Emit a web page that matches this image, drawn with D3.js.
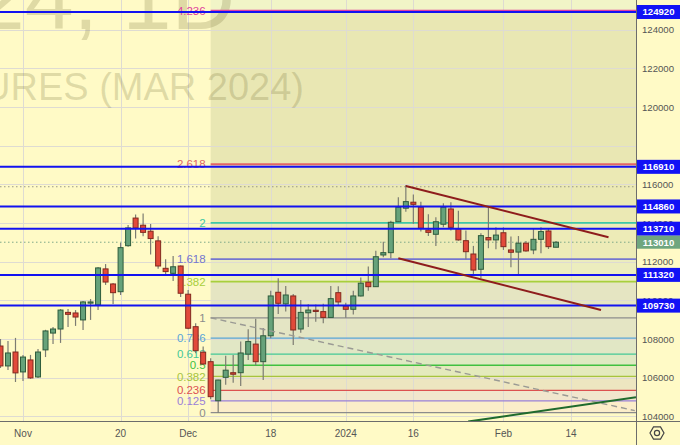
<!DOCTYPE html>
<html><head><meta charset="utf-8">
<script src="https://cdn.jsdelivr.net/npm/d3@7"></script>
<style>
html,body{margin:0;padding:0;background:#fffac6;}
svg{display:block;font-family:"Liberation Sans",Arial,sans-serif;}
</style>
</head><body>
<svg id="chart" width="680" height="445"></svg>
<script>
// ---------- DATA ----------
const dates = [
"2023-10-27","2023-10-30","2023-10-31",
"2023-11-01","2023-11-02","2023-11-03","2023-11-06","2023-11-07","2023-11-08","2023-11-09","2023-11-10",
"2023-11-13","2023-11-14","2023-11-15","2023-11-16","2023-11-17","2023-11-20","2023-11-21","2023-11-22",
"2023-11-23","2023-11-24","2023-11-27","2023-11-28","2023-11-29","2023-11-30",
"2023-12-01","2023-12-04","2023-12-05","2023-12-06","2023-12-07","2023-12-08","2023-12-11","2023-12-12",
"2023-12-13","2023-12-14","2023-12-15","2023-12-18","2023-12-19","2023-12-20","2023-12-21","2023-12-22",
"2023-12-25","2023-12-26","2023-12-27","2023-12-28","2023-12-29",
"2024-01-03","2024-01-04","2024-01-05","2024-01-08","2024-01-09","2024-01-10","2024-01-11","2024-01-12",
"2024-01-15","2024-01-16","2024-01-17","2024-01-18","2024-01-19","2024-01-22","2024-01-23","2024-01-24",
"2024-01-25","2024-01-26","2024-01-29","2024-01-30","2024-01-31",
"2024-02-01","2024-02-02","2024-02-05","2024-02-06","2024-02-07","2024-02-08","2024-02-09","2024-02-12"
];
const openP = [
107640,106610,107330,106300,106920,106040,107440,108310,108520,109380,109350,108990,109870,109760,111630,110850,
110450,112830,114260,113890,113580,113080,111660,111400,111780,110320,108640,107320,106830,104810,106020,106260,
106260,107220,107740,106830,108170,110420,109820,110230,108520,109360,109490,109420,109120,110400,109710,109540,
110230,110940,110710,112350,112470,114070,114770,115080,114820,113640,113420,113940,114730,113700,113090,112400,
111610,113250,113130,113500,112610,112500,112960,112610,113160,113590,112750
];
const highP = [
108000,107900,108060,107180,107180,107490,108480,108630,109550,109560,109500,109970,110070,111730,111880,110900,
112970,113900,114450,114490,113950,113320,112130,112300,111810,110540,108820,107610,107010,105900,107140,107180,
107870,108510,109050,108570,110500,111140,110750,110330,110020,109800,109790,109830,110750,110730,109880,110500,
111180,111750,112570,113040,114120,115340,115970,115480,115110,114460,114300,115020,115080,114640,113610,112820,
113470,114820,113780,113780,113300,113330,113070,113700,113780,113730,113070
];
const lowP = [
106500,106400,105780,105830,105940,105990,107070,107750,107800,108630,108680,108470,108990,109500,110800,109820,
110280,112780,113200,113320,112370,111640,111270,111000,110180,108510,107270,106660,104890,104190,105630,105740,
105570,106920,106630,105880,108040,109300,109420,107690,108330,108630,108900,108820,109100,109710,109100,109270,
110200,110500,110690,112230,112180,114060,114590,113970,113560,113330,112820,113780,113610,113090,112130,111350,
111140,112700,112640,112610,111710,111320,112520,112390,112440,112660,112750
];
const closeP = [
106610,107280,106250,107070,105990,107330,108420,108520,109500,109280,109140,109920,109920,111680,110950,110400,
112730,113750,113750,113520,113200,111780,111490,111740,110370,108560,107400,106710,105020,105880,106390,106180,
107280,107870,106830,108170,110230,109850,110280,108470,109380,109500,109450,109120,110090,109920,109540,110230,
110890,110710,112260,112470,114040,114820,115110,114970,113730,113520,114070,114820,113780,113130,112520,111570,
113350,113130,113380,112780,112490,112960,112560,113160,113560,112780,113010
];

const levelPrices = [124920, 116910, 114860, 113710, 111320, 109730];
const lastPrice = 113010;
const dottedHighPrice = 115880;
const yGridValues  = [104000,106000,108000,110000,112000,114000,116000,118000,120000,122000,124000];
const yTickLabels  = [104000,106000,108000,110000,112000,114000,116000,120000,122000,124000];

const xTickLabels = ["Nov","20","Dec","18","2024","16","Feb","14"];
const xTickDates  = ["2023-11-01","2023-11-20","2023-12-01","2023-12-18","2024-01-03","2024-01-16","2024-02-01","2024-02-14"];

const fibLevels = [0,0.125,0.236,0.382,0.5,0.618,0.786,1,1.382,1.618,2,2.618,4.236];
const fibLabels = ["0","0.125","0.236","0.382","0.5","0.618","0.786","1","1.382","1.618","2","2.618","4.236"];
const fibColors = ["#8c8c8c","#9a80d8","#dc5050","#a6c43e","#40c040","#44c896","#58a4d8","#8c8c8c","#a8cf3c","#7476cf","#3ec8a4","#e26666","#e0409c"];
// fill of band between level k-1 and level k (index 0 unused)
const fibFills  = ["none","#fbedc9","#f1e6cd","#ede6c0","#e4eabd","#dfe9c2","#e1e7c5","#e4e5c4","#e5e5c2","#ecedbe","#edebb7","#ebe9b4","#e9e7b3"];
const fibAbove = "#f1f5c7";
const fibZero = 104190, fibOne = 109100, fibStartDate = "2023-12-06";

// trend lines: [bar position, price]
const trendUpper  = [[54,115920],[81,113270]];
const trendLower  = [[53,112180],[80,109500]];
const trendDashed = [[28,109100],[84.5,104300]];
const trendGreen  = [[62.3,103730],[84.66,104990]];

const watermark1 = "RIH2024, 1D";
const watermark2 = "RTS INDEX FUTURES (MAR 2024)";

// ---------- LAYOUT ----------
const W = 680, H = 445, plotW = 636, plotH = 421;
const svg = d3.select("#chart");

function dateIndex(s){
  const k = dates.indexOf(s);
  if (k >= 0) return k;
  const d = new Date(dates[dates.length-1]+"T00:00:00Z"), t = new Date(s+"T00:00:00Z");
  let n = dates.length-1;
  while (d < t){ d.setUTCDate(d.getUTCDate()+1); const w=d.getUTCDay(); if (w!==0 && w!==6) n++; }
  return n;
}

const x = d3.scaleLinear().domain([-0.064, 84.66]).range([0, plotW]);
const y = d3.scaleLinear().domain([103761, 125541]).range([plotH, 0]);

const candles = dates.map((d,i)=>({i, o:openP[i], h:highP[i], l:lowP[i], c:closeP[i]}));

svg.append("rect").attr("width",W).attr("height",H).attr("fill","#fffac6");

const defs = svg.append("defs");
defs.append("clipPath").attr("id","plotclip").append("rect").attr("width",plotW).attr("height",plotH);
const plot = svg.append("g").attr("clip-path","url(#plotclip)");

// fib bands
const fibX0 = x(dateIndex(fibStartDate));
const fibPrice = v => fibZero + v*(fibOne-fibZero);
plot.append("rect").attr("x",fibX0).attr("y",0).attr("width",plotW-fibX0)
  .attr("height",y(fibPrice(fibLevels[fibLevels.length-1]))).attr("fill",fibAbove);
for (let k=1;k<fibLevels.length;k++){
  const yt = y(fibPrice(fibLevels[k])), yb = y(fibPrice(fibLevels[k-1]));
  plot.append("rect").attr("x",fibX0).attr("y",yt).attr("width",plotW-fibX0).attr("height",yb-yt).attr("fill",fibFills[k]);
}

// grid
plot.append("g").selectAll("line").data(yGridValues).join("line")
  .attr("x1",0).attr("x2",plotW).attr("y1",d=>Math.round(y(d))+0.5).attr("y2",d=>Math.round(y(d))+0.5)
  .attr("stroke","#dedbd2").attr("stroke-width",1);
plot.append("g").selectAll("line").data(xTickDates).join("line")
  .attr("x1",d=>Math.round(x(dateIndex(d)))+0.5).attr("x2",d=>Math.round(x(dateIndex(d)))+0.5)
  .attr("y1",0).attr("y2",plotH).attr("stroke","#dedbd2").attr("stroke-width",1);

// watermark
plot.append("text").attr("x",235).attr("y",29).attr("text-anchor","end")
  .attr("font-size",88).attr("fill","rgba(110,105,50,0.22)").text(watermark1);
plot.append("text").attr("x",304).attr("y",100).attr("text-anchor","end")
  .attr("font-size",38).attr("fill","rgba(110,105,50,0.22)").text(watermark2);

// fib lines + labels
fibLevels.forEach((v,k)=>{
  const yy = y(fibPrice(v));
  plot.append("line").attr("x1",fibX0).attr("x2",plotW).attr("y1",yy).attr("y2",yy)
    .attr("stroke",fibColors[k]).attr("stroke-width", v>=1.382 ? 1.8 : 1.3);
  plot.append("text").attr("x",fibX0-5).attr("y",yy).attr("dy","0.36em").attr("text-anchor","end")
    .attr("font-size",11.5).attr("fill",fibColors[k]).text(fibLabels[k]);
});

// dotted lines
plot.append("line").attr("x1",0).attr("x2",plotW).attr("y1",y(dottedHighPrice)).attr("y2",y(dottedHighPrice))
  .attr("stroke","#9a9a8a").attr("stroke-width",1).attr("stroke-dasharray","1.5,2.5");
plot.append("line").attr("x1",0).attr("x2",plotW).attr("y1",y(lastPrice)).attr("y2",y(lastPrice))
  .attr("stroke","#7fa888").attr("stroke-width",1).attr("stroke-dasharray","1.5,2.5");

// candles
const bw = 5;
const cg = plot.append("g");
cg.selectAll("line.w").data(candles).join("line").attr("class","w")
  .attr("x1",d=>x(d.i)).attr("x2",d=>x(d.i)).attr("y1",d=>y(d.h)).attr("y2",d=>y(d.l))
  .attr("stroke","#7c7c72").attr("stroke-width",1.2);
cg.selectAll("rect").data(candles).join("rect")
  .attr("x",d=>x(d.i)-bw/2).attr("width",bw)
  .attr("y",d=>y(Math.max(d.o,d.c))).attr("height",d=>Math.max(1.2,Math.abs(y(d.o)-y(d.c))))
  .attr("fill",d=>d.c>=d.o?"#66a27a":"#e24a3a")
  .attr("stroke",d=>d.c>=d.o?"#2e5c3c":"#82291e").attr("stroke-width",1);

// blue levels
plot.append("g").selectAll("line").data(levelPrices).join("line")
  .attr("x1",0).attr("x2",plotW).attr("y1",d=>y(d)).attr("y2",d=>y(d))
  .attr("stroke","#1212f0").attr("stroke-width",2);

// trend lines
function tline(pts,color,w,dash){
  const l = plot.append("line").attr("x1",x(pts[0][0])).attr("y1",y(pts[0][1]))
    .attr("x2",x(pts[1][0])).attr("y2",y(pts[1][1])).attr("stroke",color).attr("stroke-width",w);
  if (dash) l.attr("stroke-dasharray",dash);
}
tline(trendDashed,"#9a9a94",1.4,"6,4");
tline(trendUpper,"#8e1c1c",2);
tline(trendLower,"#8e1c1c",2);
tline(trendGreen,"#1f6a2d",2);

// axes frame
svg.append("line").attr("x1",plotW+0.5).attr("x2",plotW+0.5).attr("y1",0).attr("y2",H).attr("stroke","#6c6c6c");
svg.append("line").attr("x1",0).attr("x2",W).attr("y1",plotH+0.5).attr("y2",plotH+0.5).attr("stroke","#6c6c6c");

// y tick labels
svg.append("g").selectAll("text").data(yTickLabels).join("text")
  .attr("x",642).attr("y",d=>y(d)).attr("dy","0.36em").attr("font-size",9.6).attr("fill","#555")
  .text(d=>d);

// price boxes
const boxes = svg.append("g");
levelPrices.forEach(p=>{
  boxes.append("rect").attr("x",637).attr("y",y(p)-7).attr("width",43).attr("height",14).attr("fill","#1212f5");
  boxes.append("text").attr("x",658.5).attr("y",y(p)).attr("dy","0.36em").attr("text-anchor","middle")
    .attr("font-size",9.6).attr("font-weight","bold").attr("fill","#fff").text(p);
});
boxes.append("rect").attr("x",637).attr("y",y(lastPrice)-6.5).attr("width",43).attr("height",13).attr("fill","#6fa67f");
boxes.append("text").attr("x",658.5).attr("y",y(lastPrice)).attr("dy","0.36em").attr("text-anchor","middle")
  .attr("font-size",9.6).attr("font-weight","bold").attr("fill","#fff").text(lastPrice);

// x tick labels
svg.append("g").selectAll("text").data(xTickDates).join("text")
  .attr("x",d=>x(dateIndex(d))).attr("y",437).attr("text-anchor","middle")
  .attr("font-size",10).attr("fill","#555").text((d,k)=>xTickLabels[k]);

// gear icon
const gx=657, gy=433, gr=7;
const hex = d3.range(6).map(k=>[gx+gr*Math.cos(Math.PI/3*k), gy+gr*Math.sin(Math.PI/3*k)]);
svg.append("path").attr("d","M"+hex.join("L")+"Z").attr("fill","none").attr("stroke","#444").attr("stroke-width",1.2);
svg.append("circle").attr("cx",gx).attr("cy",gy).attr("r",2.6).attr("fill","none").attr("stroke","#444").attr("stroke-width",1.2);
</script>
</body></html>
